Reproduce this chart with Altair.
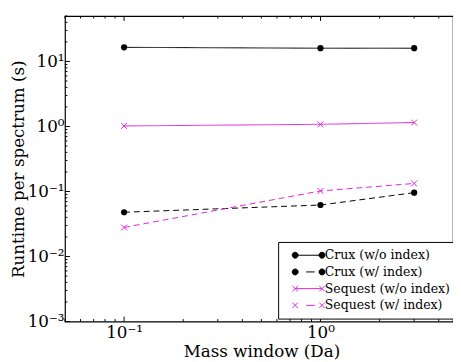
import altair as alt
import pandas as pd

# ---- data ----
x_vals = [0.1, 1, 3]
crux_wo = [16.5, 16.0, 16.0]
crux_w = [0.048, 0.062, 0.096]
seq_wo = [1.02, 1.08, 1.15]
seq_w = [0.028, 0.102, 0.133]
series_names = ["Crux (w/o index)", "Crux (w/ index)", "Sequest (w/o index)", "Sequest (w/ index)"]
series_values = [crux_wo, crux_w, seq_wo, seq_w]

x_tick_vals = [0.1, 1]
x_tick_text = ["10\u207b\u00b9", "10\u2070"]
y_tick_vals = [0.001, 0.01, 0.1, 1, 10]
y_tick_text = ["10\u207b\u00b3", "10\u207b\u00b2", "10\u207b\u00b9", "10\u2070", "10\u00b9"]
x_minor = [0.05, 0.06, 0.07, 0.08, 0.09, 0.2, 0.3, 0.4, 0.5, 0.6, 0.7, 0.8, 0.9, 2, 3, 4]
y_minor = [m * d for d in [0.001, 0.01, 0.1, 1, 10] for m in range(2, 10) if m * d <= 50]

# ---- styling ----
MAG = "#dd22dd"
colors = ["#000000", "#000000", MAG, MAG]
dashes = [[1, 0], [6, 4], [1, 0], [6, 4]]
W, H = 395, 311
FONT = "DejaVu Serif"

rows = []
for name, vals in zip(series_names, series_values):
    for xv, yv in zip(x_vals, vals):
        rows.append({"series": name, "x": xv, "y": yv})
df = pd.DataFrame(rows)

def label_expr(vals, texts):
    e = "''"
    for v, t in zip(reversed(vals), reversed(texts)):
        e = f"abs(datum.value - {v}) < {v * 1e-4} ? '{t}' : ({e})"
    return e

xscale = alt.Scale(type="log", domain=[0.05, 4.73], nice=False)
yscale = alt.Scale(type="log", domain=[0.001, 50], nice=False)

xaxis = alt.Axis(values=x_tick_vals, labelExpr=label_expr(x_tick_vals, x_tick_text),
                 tickSize=0, domain=False, grid=False, labelPadding=3,
                 title="Mass window (Da)", titleX=200, titleY=35.5,
                 titleBaseline="alphabetic", labelFlush=False)
yaxis = alt.Axis(values=y_tick_vals, labelExpr=label_expr(y_tick_vals, y_tick_text),
                 tickSize=0, domain=False, grid=False, labelPadding=1,
                 title="Runtime per spectrum (s)", titleX=-42.5, titleY=H / 2,
                 titleBaseline="alphabetic", titleAngle=-90, labelFlush=False)

# (reversed domain order so these hidden-legend scales don't merge with the legend scales)
cscale = alt.Scale(domain=series_names[::-1], range=colors[::-1])
dscale = alt.Scale(domain=series_names[::-1], range=dashes[::-1])

lines = alt.Chart(df).mark_line(strokeWidth=1, clip=True).encode(
    x=alt.X("x:Q", scale=xscale, axis=xaxis),
    y=alt.Y("y:Q", scale=yscale, axis=yaxis),
    color=alt.Color("series:N", scale=cscale, legend=None),
    strokeDash=alt.StrokeDash("series:N", scale=dscale, legend=None),
    order="x:Q",
)

crux_pts = alt.Chart(df).transform_filter(
    "indexof(datum.series, 'Crux') == 0"
).mark_point(shape="circle", filled=True, size=40, opacity=1).encode(
    x="x:Q", y="y:Q",
    color=alt.Color("series:N", scale=cscale, legend=None),
)

XPATH = "M-1,-1L1,1M-1,1L1,-1"
seq_pts = alt.Chart(df).transform_filter(
    "indexof(datum.series, 'Sequest') == 0"
).mark_point(shape=XPATH, filled=False, size=36, strokeWidth=1, opacity=1).encode(
    x="x:Q", y="y:Q",
    color=alt.Color("series:N", scale=cscale, legend=None),
)

# legend symbols (line + markers), unit scale = 7px
def circ(cx, r=0.43):
    return (f"M{cx + r},0A{r},{r} 0 1,1 {cx - r},0A{r},{r} 0 1,1 {cx + r},0")

def xm(cx, r=0.4):
    return f"M{cx - r},{-r}L{cx + r},{r}M{cx - r},{r}L{cx + r},{-r}"

c = 1.95
sym_paths = [
    f"M{-c},0L{c},0" + circ(-c) + circ(c),
    f"M-0.35,0L0.9,0" + circ(-c) + circ(c),
    f"M{-c},0L{c},0" + xm(-c) + xm(c),
    f"M-0.35,0L0.9,0" + xm(-c) + xm(c),
]

leg = alt.Legend(orient="none", legendX=217, legendY=230, title="",
                 labelFont=FONT, labelFontSize=12.7, labelColor="black",
                 symbolSize=196, symbolStrokeWidth=1, symbolOffset=17.5,
                 labelOffset=9, rowPadding=2, padding=6, labelLimit=300,
                 symbolOpacity=1,
                 strokeColor="black", fillColor="white", cornerRadius=0)

legend_layer = alt.Chart(df).mark_point(filled=True, size=0, opacity=1).encode(
    x="x:Q", y="y:Q",
    fill=alt.Fill("series:N", scale=alt.Scale(domain=series_names, range=colors), legend=leg),
    stroke=alt.Stroke("series:N", scale=alt.Scale(domain=series_names, range=colors), legend=leg),
    shape=alt.Shape("series:N", scale=alt.Scale(domain=series_names, range=sym_paths), legend=leg),
)

# inward ticks
def tick_df(vals):
    return pd.DataFrame({"v": vals})

def xticks(vals, length):
    bottom = alt.Chart(tick_df(vals)).mark_rule(color="black", strokeWidth=1).encode(
        x=alt.X("v:Q", scale=xscale), y=alt.value(H), y2=alt.value(H - length))
    top = alt.Chart(tick_df(vals)).mark_rule(color="black", strokeWidth=1).encode(
        x=alt.X("v:Q", scale=xscale), y=alt.value(0), y2=alt.value(length))
    return [bottom, top]

def yticks(vals, length):
    left = alt.Chart(tick_df(vals)).mark_rule(color="black", strokeWidth=1).encode(
        y=alt.Y("v:Q", scale=yscale), x=alt.value(0), x2=alt.value(length))
    return [left]

ticks = xticks(x_tick_vals, 5) + xticks(x_minor, 2.5) + yticks(y_tick_vals, 5) + yticks(y_minor, 2.5)

chart = alt.layer(lines, crux_pts, seq_pts, legend_layer, *ticks).properties(
    width=W, height=H,
    background="white",
    autosize=alt.AutoSizeParams(type="none"),
    padding={"left": 58, "top": 5, "right": 0, "bottom": 38},
).configure(
    font=FONT
).configure_view(
    stroke="black", strokeWidth=1.2
).configure_axis(
    labelFont=FONT, labelFontSize=17, labelColor="black",
    titleFont=FONT, titleFontSize=17, titleColor="black", titleFontWeight="normal",
).configure_legend(
    labelFont=FONT, labelFontSize=12.7, labelColor="black", labelLimit=300,
)

chart.save("out.html", embed_options={"renderer": "svg", "actions": False})
